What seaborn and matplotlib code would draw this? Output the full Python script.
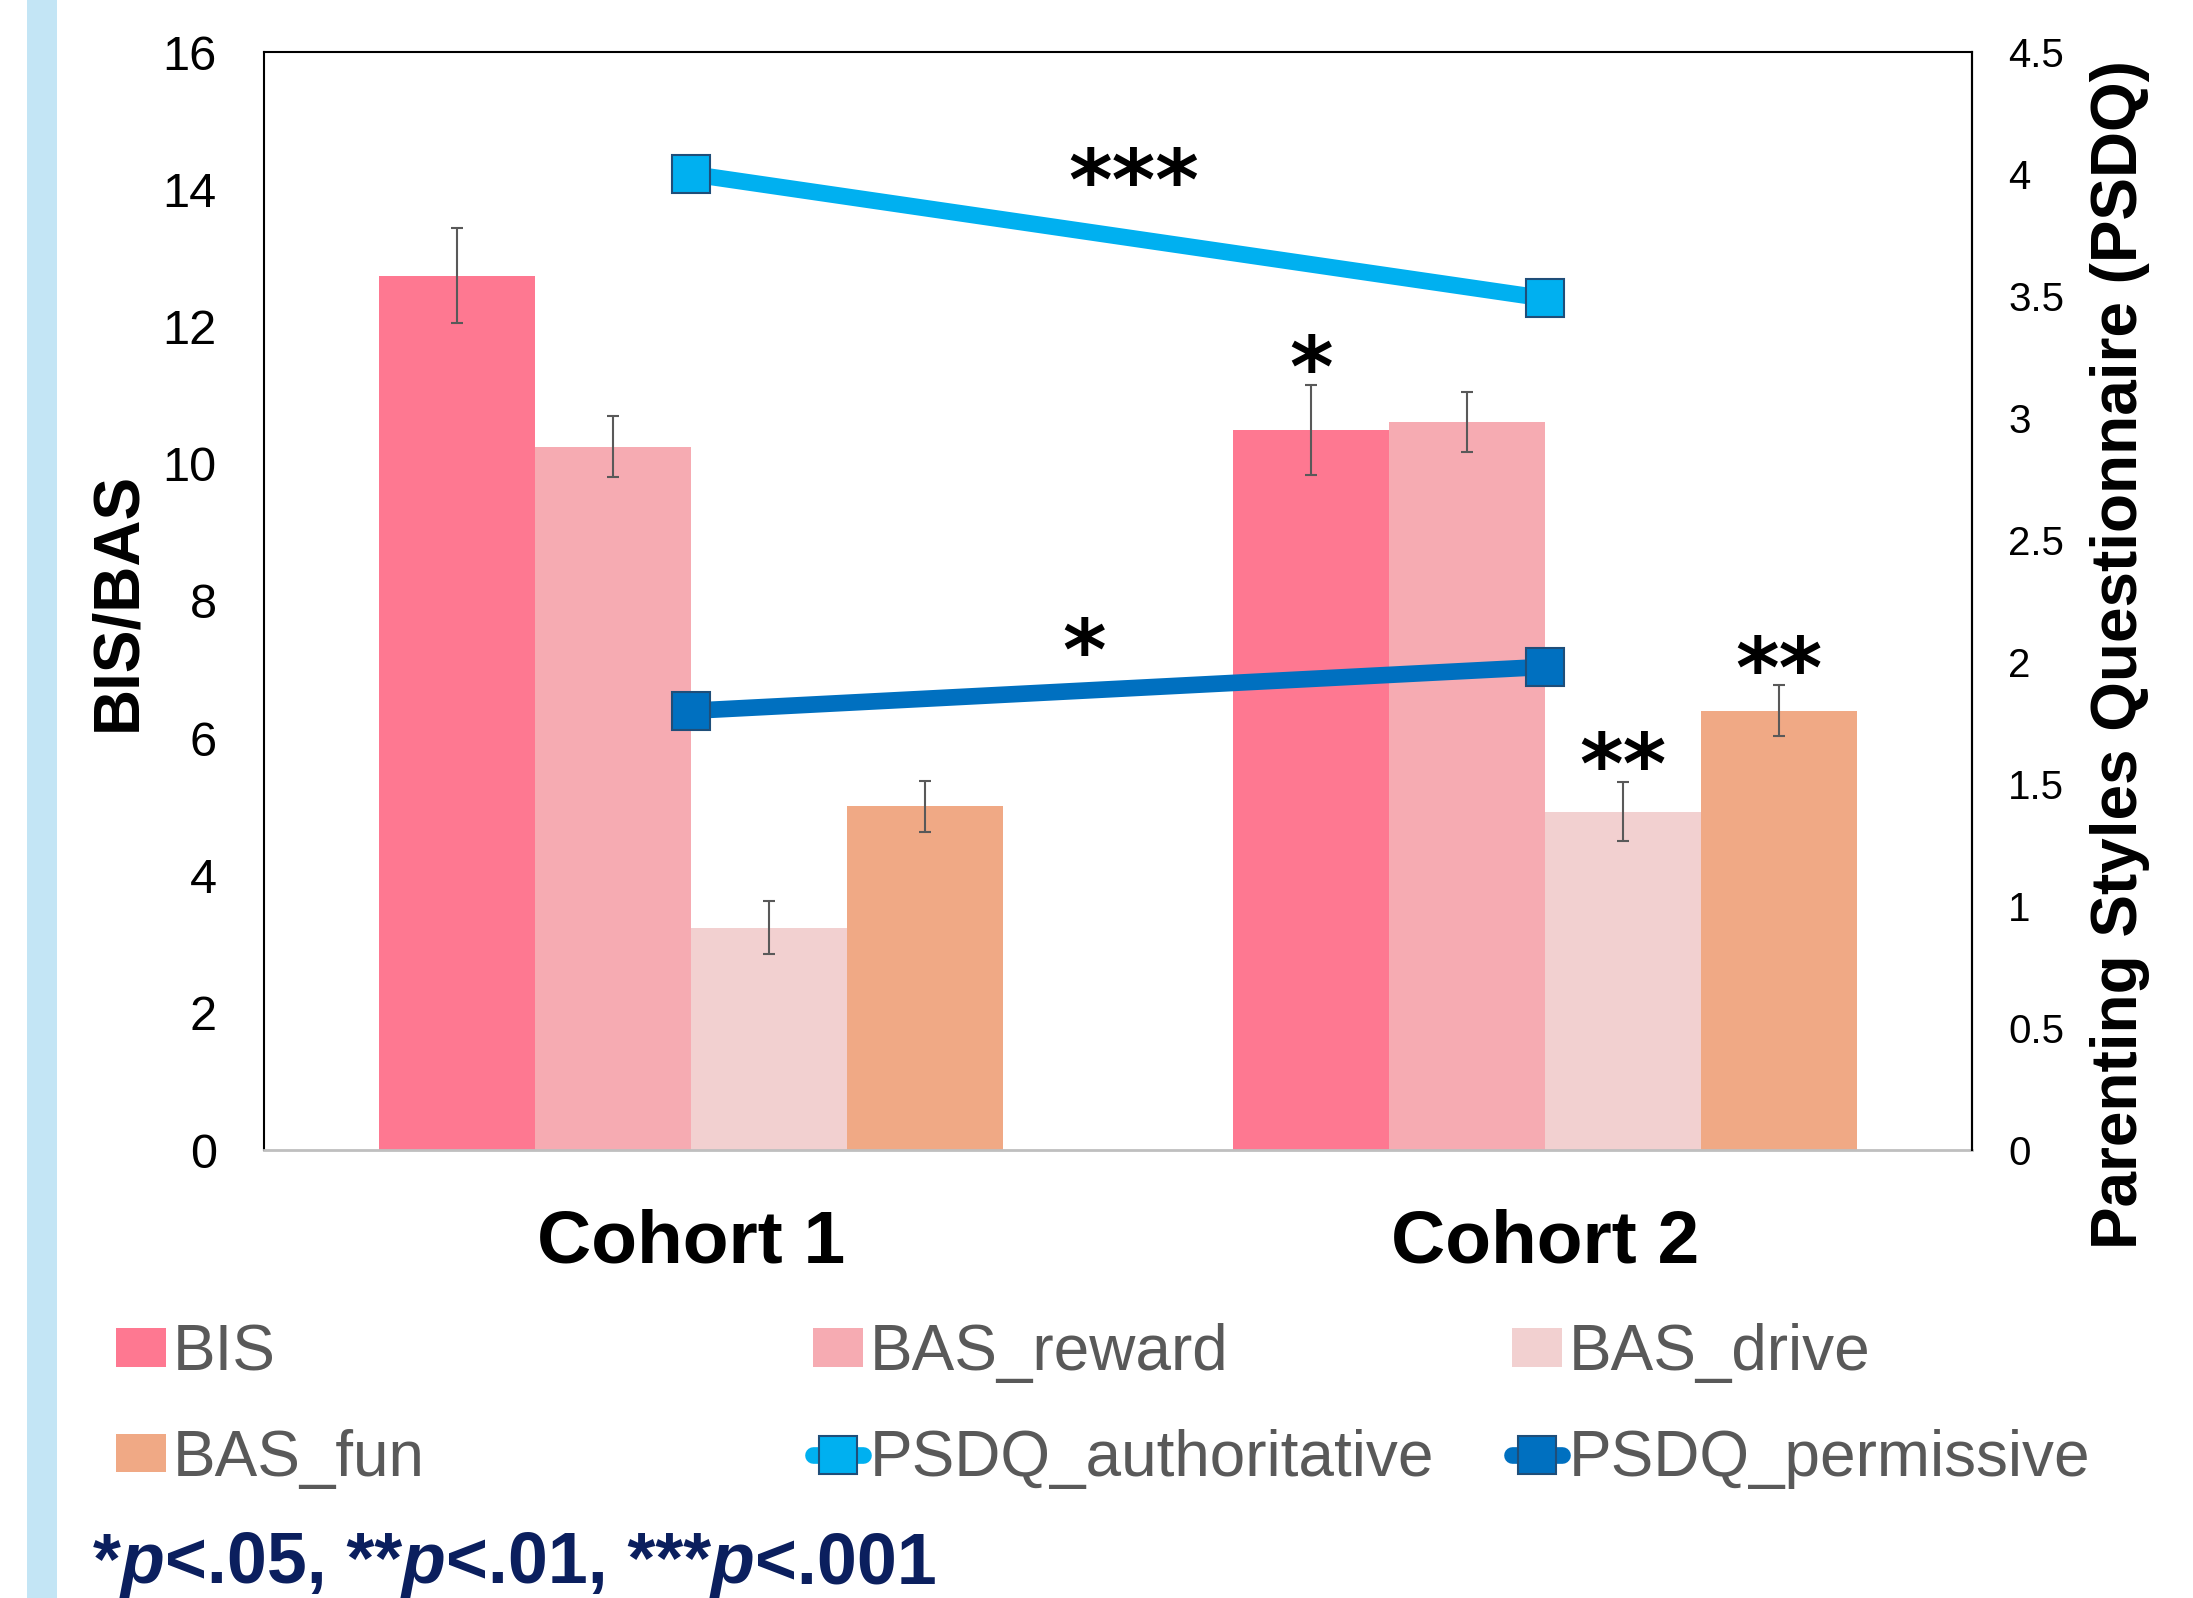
import numpy as np
import pandas as pd
import matplotlib
matplotlib.use("Agg")
import matplotlib.pyplot as plt
import seaborn as sns
from matplotlib.lines import Line2D
from matplotlib.patches import Patch, Rectangle

# ---------------- data ----------------
cohorts = ["Cohort 1", "Cohort 2"]
measures = ["BIS", "BAS_reward", "BAS_drive", "BAS_fun"]
bis = [12.74, 10.49]
bas_reward = [10.25, 10.61]
bas_drive = [3.24, 4.93]
bas_fun = [5.01, 6.40]
bis_err = [0.69, 0.66]
bas_reward_err = [0.44, 0.44]
bas_drive_err = [0.39, 0.43]
bas_fun_err = [0.37, 0.37]

psdq_series = ["PSDQ_authoritative", "PSDQ_permissive"]
psdq_authoritative = [4.00, 3.49]
psdq_permissive = [1.80, 1.98]

left_ticks = [0, 2, 4, 6, 8, 10, 12, 14, 16]
right_ticks = [0, 0.5, 1, 1.5, 2, 2.5, 3, 3.5, 4, 4.5]

left_label = "BIS/BAS"
right_label = "Parenting Styles Questionnaire (PSDQ)"
footnote = [("*", False), ("p", True), ("<.05, **", False), ("p", True),
            ("<.01, ***", False), ("p", True), ("<.001", False)]

# significance marks above bars: (measure, cohort index, label)
bar_stars = [("BIS", 1, "*"), ("BAS_drive", 1, "**"), ("BAS_fun", 1, "**")]
# significance marks for the PSDQ lines: (label, x, y on left axis)
line_stars = [("***", 0.518, 14.38), ("*", 0.46, 7.52)]

# ---------------- styles ----------------
bar_colors = ["#FE7891", "#F6ABB2", "#F2D0D0", "#F0A985"]
line_colors = ["#00B0F0", "#0070C0"]
marker_edge = "#1F4E79"
err_color = "#595959"
legend_text_color = "#595959"
navy = "#0B1F5E"
strip_color = "#C3E5F5"

sns.set_style("white")
plt.rcParams["font.family"] = ["Liberation Sans", "DejaVu Sans"]

W, H = 2193, 1598
fig = plt.figure(figsize=(W / 100, H / 100), dpi=100)
ax_l, ax_r, ax_t, ax_b = 264, 1972, 52, 1150
ax = fig.add_axes([ax_l / W, 1 - ax_b / H, (ax_r - ax_l) / W, (ax_b - ax_t) / H])

# left light-blue strip
fig.add_artist(Rectangle((27 / W, 0), 30 / W, 1, transform=fig.transFigure,
                         facecolor=strip_color, edgecolor="none", zorder=0))

# ---------------- bars ----------------
means = {"BIS": bis, "BAS_reward": bas_reward, "BAS_drive": bas_drive, "BAS_fun": bas_fun}
errs = {"BIS": bis_err, "BAS_reward": bas_reward_err, "BAS_drive": bas_drive_err, "BAS_fun": bas_fun_err}
rows = []
for m in measures:
    for i, c in enumerate(cohorts):
        rows.append({"cohort": c, "measure": m, "value": means[m][i], "err": errs[m][i]})
df = pd.DataFrame(rows)

sns.barplot(data=df, x="cohort", y="value", hue="measure", order=cohorts,
            hue_order=measures, palette=bar_colors, width=0.73, errorbar=None,
            saturation=1, linewidth=0, ax=ax, legend=False)

bar_pos = {}
for m, cont in zip(measures, ax.containers):
    xs, ys = [], []
    for i, p in enumerate(cont.patches):
        xc = p.get_x() + p.get_width() / 2
        xs.append(xc)
        ys.append(p.get_height())
        bar_pos[(m, i)] = xc
    ax.errorbar(xs, ys, yerr=errs[m], fmt="none", ecolor=err_color,
                elinewidth=1.5, capsize=4.5, capthick=1.5, zorder=3)

for m, i, lab in bar_stars:
    y_top = means[m][i] + errs[m][i]
    ax.text(bar_pos[(m, i)], y_top + 0.5 - 0.32, lab, ha="center", va="center",
            fontsize=60, fontweight="bold", family="DejaVu Sans", color="black", zorder=5)
for lab, x, y in line_stars:
    ax.text(x, y - 0.32, lab, ha="center", va="center", fontsize=60,
            fontweight="bold", family="DejaVu Sans", color="black", zorder=5)

ax.set_ylim(0, 16)
ax.set_yticks(left_ticks)
ax.set_yticklabels([str(t) for t in left_ticks])
ax.set_xlabel("")
ax.set_ylabel("")
ax.set_xticks(range(len(cohorts)))
ax.set_xticklabels(cohorts, fontsize=54, fontweight="bold")
ax.tick_params(axis="x", length=0, pad=42, colors="black")
ax.tick_params(axis="y", length=0, pad=34, labelsize=35, colors="black")
for s in ["left", "top", "right"]:
    ax.spines[s].set_color("black")
    ax.spines[s].set_linewidth(1.5)
ax.spines["bottom"].set_color("#BFBFBF")
ax.spines["bottom"].set_linewidth(2)

# ---------------- lines (right axis) ----------------
ax2 = ax.twinx()
line_df = pd.DataFrame({
    "cohort": cohorts * 2,
    "series": [psdq_series[0]] * 2 + [psdq_series[1]] * 2,
    "value": psdq_authoritative + psdq_permissive,
})
sns.pointplot(data=line_df, x="cohort", y="value", hue="series", order=cohorts,
              hue_order=psdq_series, palette=line_colors, markers="s",
              linestyles="-", errorbar=None, ax=ax2, legend=False,
              linewidth=12, markersize=27.5, markeredgewidth=1.5)
for ln in ax2.lines:
    ln.set_markeredgecolor(marker_edge)
    ln.set_zorder(4)

ax2.set_ylim(0, 4.5)
ax2.set_yticks(right_ticks)
ax2.set_yticklabels([f"{t:g}" for t in right_ticks])
ax2.set_ylabel("")
ax2.set_xlabel("")
ax2.tick_params(axis="y", length=0, pad=26, labelsize=29, colors="black")
for s in ["left", "top", "bottom"]:
    ax2.spines[s].set_visible(False)
ax2.spines["right"].set_color("black")
ax2.spines["right"].set_linewidth(1.5)
ax.set_xlim(-0.5, 1.5)

# axis titles
fig.text(118 / W, 1 - 601 / H, left_label, rotation=90, ha="center", va="center",
         fontsize=46, fontweight="bold", color="black")
fig.text(2120 / W, 1 - 655 / H, right_label, rotation=90, ha="center", va="center",
         fontsize=46, fontweight="bold", color="black")

# ---------------- legend ----------------
bar_handles = [Patch(facecolor=c, edgecolor="none", label=m) for m, c in zip(measures, bar_colors)]
line_handles = [Line2D([0], [0], color=c, lw=12, marker="s", markersize=27.5,
                       markerfacecolor=c, markeredgecolor=marker_edge,
                       markeredgewidth=1.5, solid_capstyle="round", label=s)
                for s, c in zip(psdq_series, line_colors)]
columns = [[bar_handles[0], bar_handles[3]],
           [bar_handles[1], line_handles[0]],
           [bar_handles[2], line_handles[1]]]
col_x = [116, 813, 1512]
for handles, x in zip(columns, col_x):
    fig.legend(handles=handles, loc="center left", bbox_to_anchor=(x / W, 1 - 1406 / H),
               frameon=False, fontsize=46, handlelength=0.78, handleheight=0.55,
               handletextpad=0.11, labelspacing=0.71, borderpad=0, borderaxespad=0,
               labelcolor=legend_text_color)

# ---------------- footnote ----------------
t = fig.text(93 / W, 1 - 1583 / H, footnote[0][0], fontsize=51.7, fontweight="bold",
             color=navy, ha="left", va="baseline")
for txt, it in footnote[1:]:
    t = ax.annotate(txt, xy=(1, 0), xycoords=t, ha="left", va="bottom", fontsize=51.7,
                    fontweight="bold", style="italic" if it else "normal",
                    color=navy, annotation_clip=False)

fig.savefig("out.png", dpi=100)
